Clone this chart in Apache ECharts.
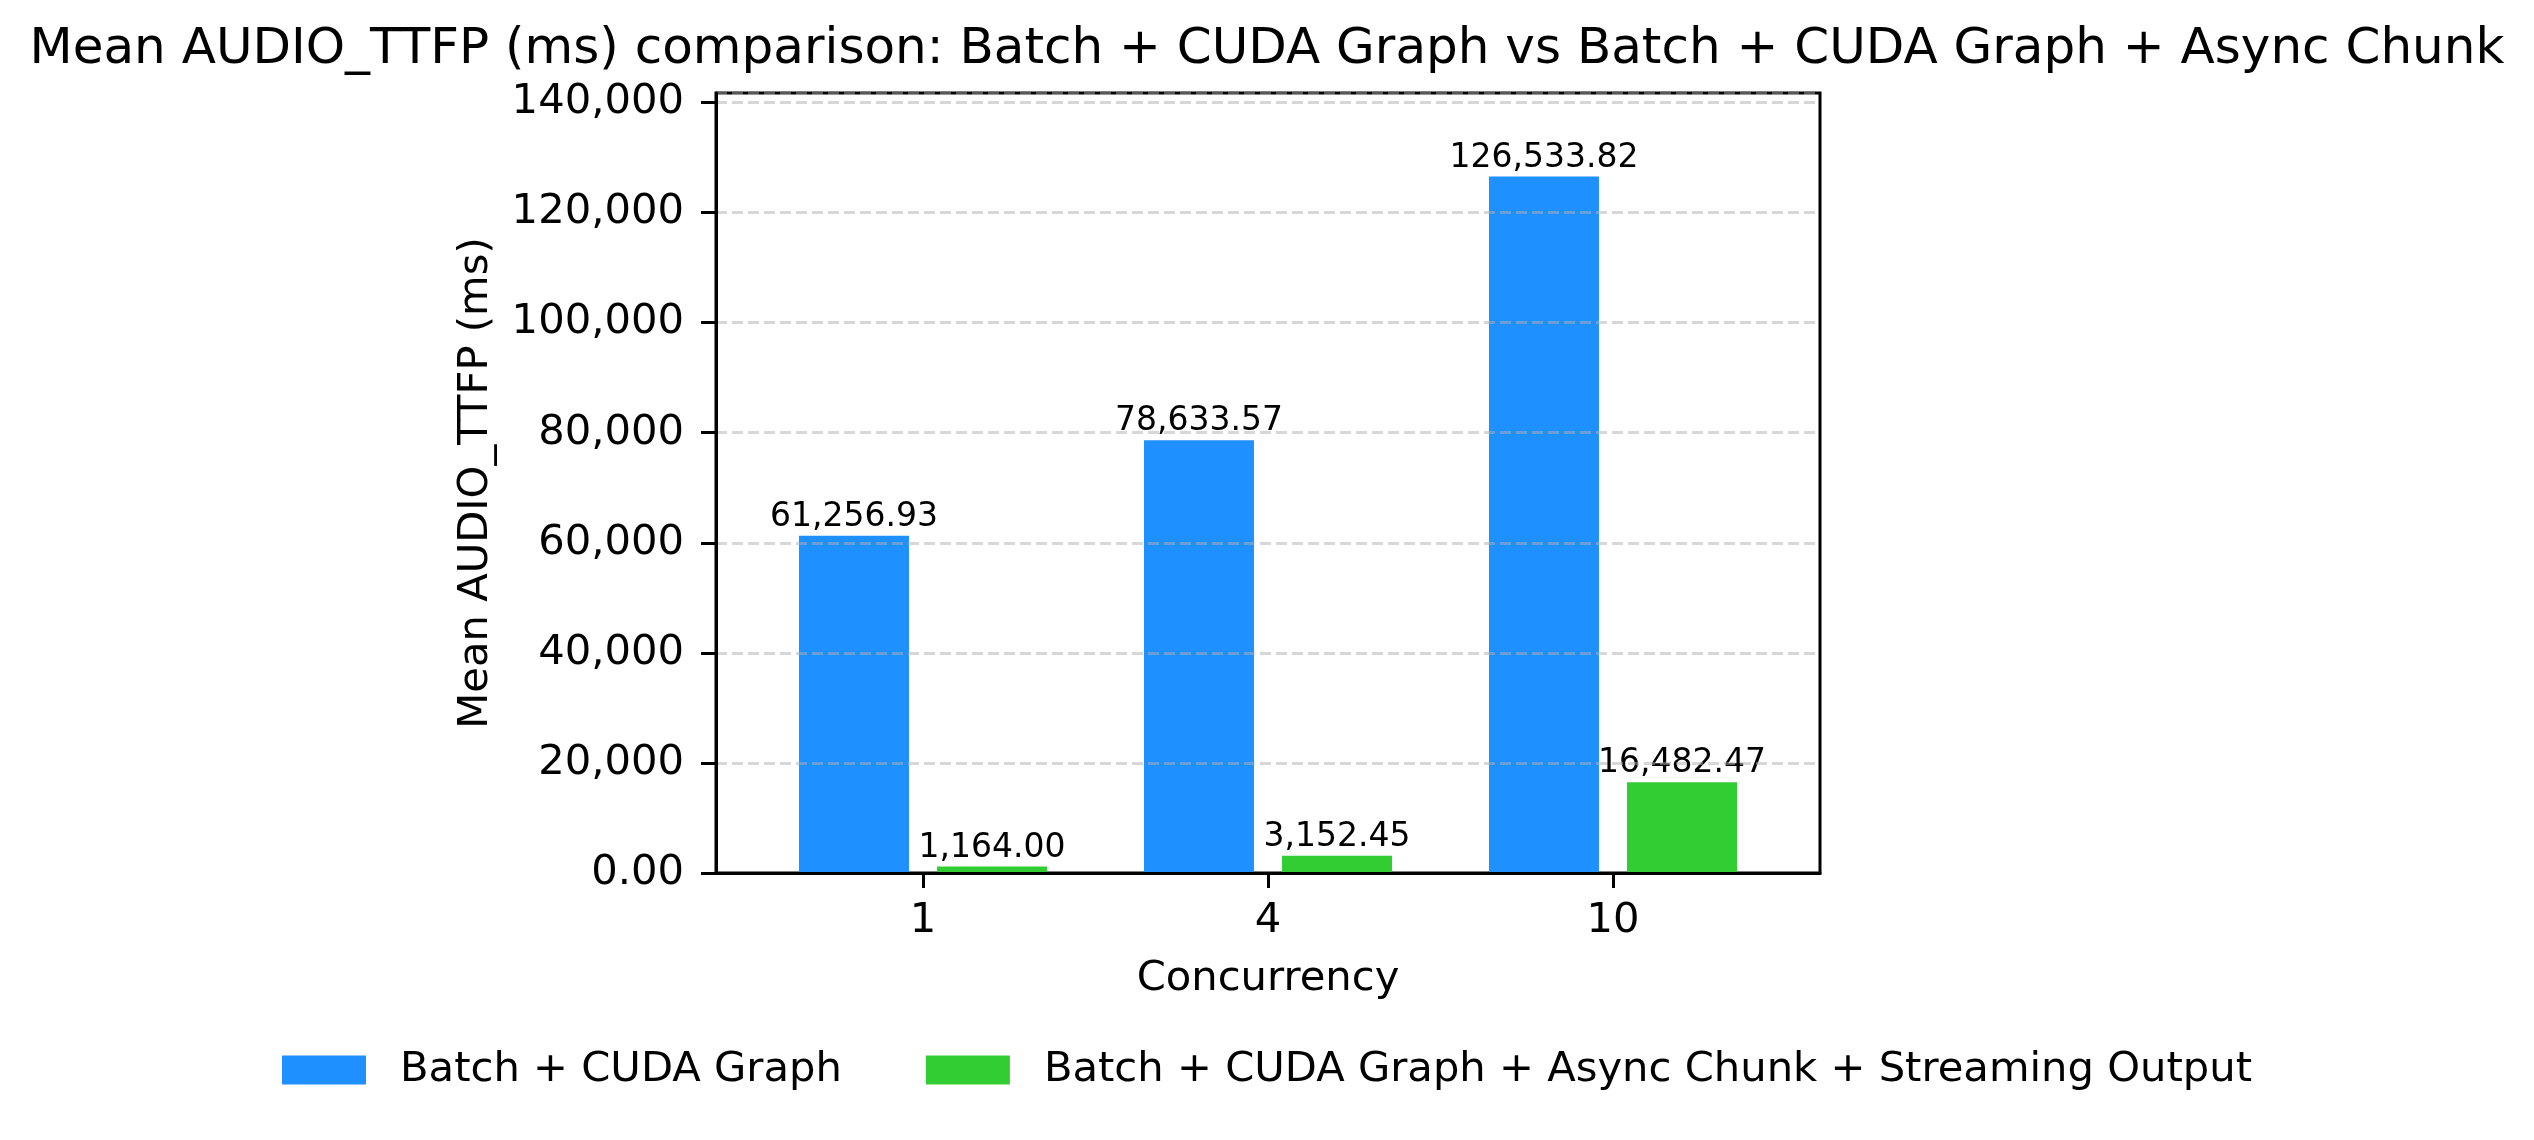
<!DOCTYPE html>
<html>
<head>
<meta charset="utf-8">
<script src="https://cdn.jsdelivr.net/npm/echarts@6/dist/echarts.min.js"></script>
<style>
  html, body { margin: 0; padding: 0; background: #fff; }
  #chart { width: 2534px; height: 1140px; }
</style>
</head>
<body>
<div id="chart"></div>
<script>
const concurrency = ['1', '4', '10']
const seriesNames = ['Batch + CUDA Graph', 'Batch + CUDA Graph + Async Chunk + Streaming Output']
const batchCuda = [61256.93, 78633.57, 126533.82]
const batchCudaAsync = [1164.00, 3152.45, 16482.47]
const yTicks = [0, 20000, 40000, 60000, 80000, 100000, 120000, 140000]

const font = 'DejaVu Sans'
const yMax = Math.max(...batchCuda) * 1.12

const fmt2 = v => v.toLocaleString('en-US', { minimumFractionDigits: 2, maximumFractionDigits: 2 })

const chart = echarts.init(document.getElementById('chart'))

chart.setOption({
  animation: false,
  backgroundColor: '#fff',
  textStyle: { fontFamily: font },
  title: {
    text: 'Mean AUDIO_TTFP (ms) comparison: Batch + CUDA Graph vs Batch + CUDA Graph + Async Chunk',
    left: 'center',
    top: 20,
    textStyle: { fontFamily: font, fontSize: 50, fontWeight: 'normal', color: '#000' }
  },
  legend: {
    data: seriesNames,
    left: 'center',
    top: 1044,
    itemWidth: 84,
    itemHeight: 29,
    itemGap: 84,
    icon: 'rect',
    textStyle: { fontFamily: font, fontSize: 41.7, color: '#000', padding: [0, 0, 0, 29] }
  },
  grid: [
    // frame with the y scale
    { left: 716, right: 714, top: 93, bottom: 267, show: true, borderColor: '#000', borderWidth: 3 },
    // bars, inset so categories sit like matplotlib's xlim
    { left: 750.5, right: 748.5, top: 93, bottom: 267 }
  ],
  xAxis: [
    {
      gridIndex: 0, type: 'value', min: 0, max: 1, z: 5,
      axisLine: { show: true, lineStyle: { color: '#000', width: 3 } },
      axisTick: { show: false }, axisLabel: { show: false }, splitLine: { show: false }
    },
    {
      gridIndex: 1, type: 'category', data: concurrency,
      name: 'Concurrency', nameLocation: 'middle', nameGap: 85,
      nameTextStyle: { fontFamily: font, fontSize: 41.7, color: '#000' },
      axisLine: { show: false },
      axisTick: { show: true, alignWithLabel: true, length: 15, lineStyle: { color: '#000', width: 3 } },
      axisLabel: { fontFamily: font, fontSize: 41.7, color: '#000', margin: 27 }
    }
  ],
  yAxis: [
    {
      gridIndex: 0, type: 'value', min: 0, max: yMax, interval: 20000, z: 5,
      name: 'Mean AUDIO_TTFP (ms)', nameLocation: 'middle', nameGap: 219, nameRotate: 90,
      nameTextStyle: { fontFamily: font, fontSize: 41.7, color: '#000' },
      axisLine: { show: true, lineStyle: { color: '#000', width: 3 } },
      axisTick: { show: true, length: 15, lineStyle: { color: '#000', width: 3 } },
      axisLabel: {
        fontFamily: font, fontSize: 41.7, color: '#000', margin: 32, showMaxLabel: false,
        formatter: v => {
          if (!yTicks.includes(v)) return ''
          return v === 0 ? '0.00' : v.toLocaleString('en-US')
        }
      },
      splitLine: {
        show: true,
        lineStyle: { color: 'rgba(176,176,176,0.5)', width: 3, type: [11, 5] }
      }
    },
    { gridIndex: 1, type: 'value', min: 0, max: yMax, show: false, splitLine: { show: false } }
  ],
  series: [
    {
      name: seriesNames[0], type: 'bar', xAxisIndex: 1, yAxisIndex: 1,
      data: batchCuda, barWidth: 110, barGap: '25.5%',
      itemStyle: { color: '#1E90FF' },
      label: {
        show: true, position: 'top', distance: 2, color: '#000',
        fontFamily: font, fontSize: 33, formatter: p => fmt2(p.value)
      }
    },
    {
      name: seriesNames[1], type: 'bar', xAxisIndex: 1, yAxisIndex: 1,
      data: batchCudaAsync, barWidth: 110, barGap: '25.5%',
      itemStyle: { color: '#32CD32' },
      label: {
        show: true, position: 'top', distance: 2, color: '#000',
        fontFamily: font, fontSize: 33, formatter: p => fmt2(p.value)
      }
    }
  ]
})
</script>
</body>
</html>
